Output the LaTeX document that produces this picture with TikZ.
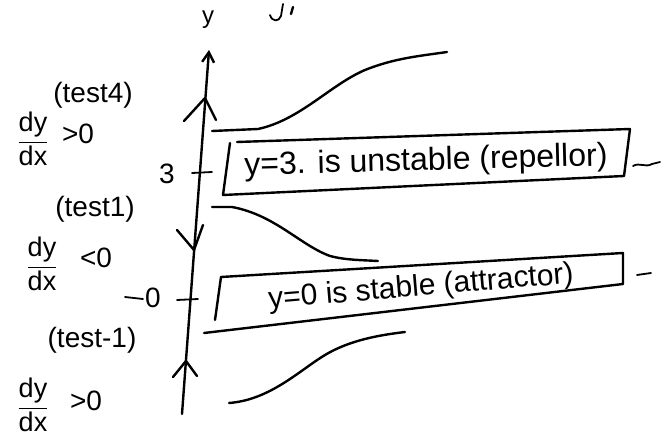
\documentclass[tikz,border=0pt]{standalone}
\usepackage{fontspec}
\setmainfont{Liberation Sans}
\usetikzlibrary{arrows.meta}
\tikzset{
  ink/.style={line width=2.4pt, line cap=round, line join=round, black},
  thinink/.style={line width=1.8pt, line cap=round, line join=round, black},
  lbl/.style={inner sep=0pt, font=\fontsize{28}{30}\selectfont},
  frac/.style={inner sep=0pt, font=\fontsize{27}{29}\selectfont},
  boxtxt/.style={inner sep=0pt, font=\fontsize{32}{35}\selectfont},
}
\newcommand{\dydx}{$\displaystyle\frac{\mbox{dy}}{\mbox{dx}}$}
\begin{document}
\begin{tikzpicture}[x=1pt,y=-1pt]
\useasboundingbox (0,0) rectangle (670,438);
% axis
\coordinate (bot) at (182,414);
\coordinate (top) at (209,50);
\draw[ink, -{Straight Barb[length=10pt,width=12pt]}] (bot) -- (top);
\node[lbl, font=\fontsize{24}{26}\selectfont] (ylab) at (208,20) {y};
% partial cut-off marks at top
\draw[thinink] (283,4) -- (281,16) .. controls (279,22) and (272,22) .. (270,15);
\draw[ink] (293,7) -- (291,14);
% chevrons on axis
\draw[ink] (184,121) -- (205,98) -- (216,120);
\draw[ink] (177,230) -- (194,250) -- (203,225);
\draw[ink] (173,377) -- (186,361) -- (197,376);
% ticks
\draw[thinink] (192,173) -- (212,172);
\node[lbl] (three) at (167,174) {3};
\draw[thinink] (177,300) -- (198,299);
\node[lbl] (zero) at (153,298) {0};
\draw[thinink] (125,297) -- (143,299);
% left labels
\node[lbl] (t4) at (93,95) {(test4)};
\node[frac] (f1) at (33,139) {\dydx};
\node[lbl] (g1) at (78,134) {>0};
\node[lbl] (t1) at (95,209) {(test1)};
\node[frac] (f2) at (42,264) {\dydx};
\node[lbl] (g2) at (96,258) {<0};
\node[lbl] (tm1) at (92,340) {(test-1)};
\node[frac] (f3) at (33,405) {\dydx};
\node[lbl] (g3) at (86,401) {>0};
% solution curves
\draw[ink] (212,131) -- (258,129) .. controls (300,120) and (330,85) .. (365,70) .. controls (395,58) and (420,56) .. (447,52);
\draw[ink] (212,207) -- (232,207) .. controls (275,215) and (300,245) .. (330,256) .. controls (345,260) and (360,260) .. (378,261);
\draw[ink] (229,403) .. controls (270,400) and (300,370) .. (325,355) .. controls (350,340) and (380,335) .. (405,332);
% box 1
\node[boxtxt, rotate=1.5] (b1) at (426,162) {y=3. is unstable (repellor)};
\draw[ink] (237,142) -- (630,129) -- (624,176) -- (223,195) -- (230,143);
\draw[thinink] (633,166) .. controls (640,162) and (645,168) .. (652,164) -- (660,162);
% box 2
\node[boxtxt, font=\fontsize{30}{33}\selectfont, rotate=4.8] (b2) at (421,288) {y=0 is stable (attractor)};
\draw[ink] (221,277) -- (623,253) -- (623,284) -- (204,333);
\draw[ink] (221,277) -- (215,320);
\draw[thinink] (637,275) -- (651,273);
\end{tikzpicture}
\end{document}
